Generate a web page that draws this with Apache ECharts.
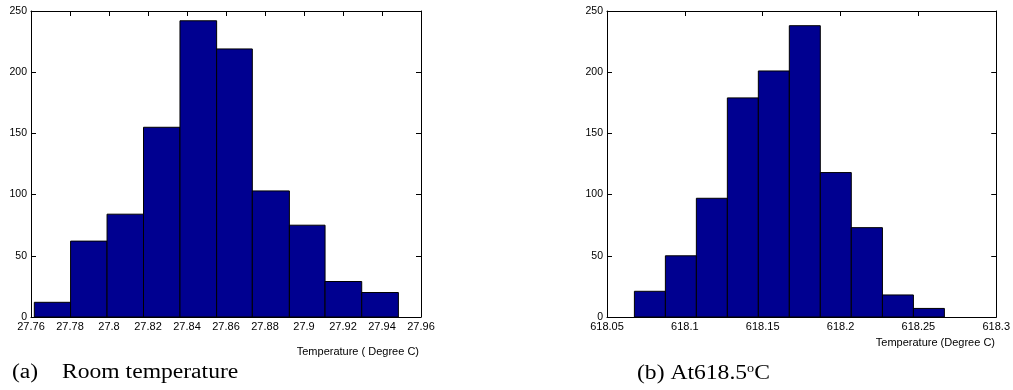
<!DOCTYPE html>
<html>
<head>
<meta charset="utf-8">
<script src="https://cdn.jsdelivr.net/npm/echarts@6/dist/echarts.min.js"></script>
<style>
html,body{margin:0;padding:0;background:#fff;}
#c{width:1013px;height:390px;}
</style>
</head>
<body>
<div id="c"></div>
<script>
// ---- data ----
// (a) room temperature histogram
const edgesA = [27.7617, 27.7803, 27.7990, 27.8177, 27.8364, 27.8552, 27.8735, 27.8925, 27.9108, 27.9296, 27.9484];
const countsA = [12, 62, 84, 155, 242, 219, 103, 75, 29, 20];
const xTicksA = {min: 27.76, max: 27.96, interval: 0.02};
// (b) at 618.5 C histogram
const edgesB = [618.0676, 618.0875, 618.1074, 618.1273, 618.1472, 618.1671, 618.1870, 618.2069, 618.2269, 618.2468, 618.2667];
const countsB = [21, 50, 97, 179, 201, 238, 118, 73, 18, 7];
const xTicksB = {min: 618.05, max: 618.3, interval: 0.05};
const yTicks = {min: 0, max: 250, interval: 50};
const xNameA = 'Temperature ( Degree C)';
const xNameB = 'Temperature (Degree C)';
const captionA1 = '(a)';
const captionA2 = 'Room temperature';
const captionB = '(b) At618.5';

const FONT = 'Liberation Sans, Arial, sans-serif';
const SERIF = 'Liberation Serif, Times New Roman, serif';

function xAxisDef(t, grid, pos, showLabels) {
  return {
    type: 'value', gridIndex: grid, position: pos,
    min: t.min, max: t.max, interval: t.interval,
    axisLine: {show: true, onZero: false, lineStyle: {color: '#000', width: 1}},
    axisTick: {show: true, inside: true, length: 5, lineStyle: {color: '#000'}},
    axisLabel: {show: showLabels, color: '#000', fontSize: 11, fontFamily: FONT, margin: 4,
      formatter: v => String(+v.toFixed(2))},
    splitLine: {show: false}
  };
}
function yAxisDef(grid, pos, showLabels) {
  return {
    type: 'value', gridIndex: grid, position: pos,
    min: yTicks.min, max: yTicks.max, interval: yTicks.interval,
    axisLine: {show: true, onZero: false, lineStyle: {color: '#000', width: 1}},
    axisTick: {show: true, inside: true, length: 5, lineStyle: {color: '#000'}},
    axisLabel: {show: showLabels, color: '#000', fontSize: 10.5, fontFamily: FONT, margin: 4},
    splitLine: {show: false}
  };
}
function hist(edges, counts, xi, yi) {
  return {
    type: 'custom', xAxisIndex: xi, yAxisIndex: yi, clip: false,
    data: counts.map((c, i) => [edges[i], edges[i + 1], c]),
    encode: {x: [0, 1], y: 2},
    renderItem: (params, api) => {
      const p0 = api.coord([api.value(0), 0]);
      const p1 = api.coord([api.value(1), api.value(2)]);
      return {
        type: 'rect',
        shape: {x: p0[0], y: p1[1], width: p1[0] - p0[0], height: p0[1] - p1[1]},
        style: {fill: '#000090', stroke: '#000', lineWidth: 1}
      };
    }
  };
}

const chart = echarts.init(document.getElementById('c'), null, {renderer: 'canvas'});
chart.setOption({
  animation: false,
  backgroundColor: '#fff',
  grid: [
    {left: 31, top: 11, width: 390, height: 306},
    {left: 607, top: 11, width: 390, height: 306}
  ],
  xAxis: [
    xAxisDef(xTicksA, 0, 'bottom', true),
    xAxisDef(xTicksA, 0, 'top', false),
    xAxisDef(xTicksB, 1, 'bottom', true),
    xAxisDef(xTicksB, 1, 'top', false)
  ],
  yAxis: [
    yAxisDef(0, 'left', true),
    yAxisDef(0, 'right', false),
    yAxisDef(1, 'left', true),
    yAxisDef(1, 'right', false)
  ],
  series: [
    hist(edgesA, countsA, 0, 0),
    hist(edgesB, countsB, 2, 2)
  ],
  graphic: [
    {type: 'text', right: 1013 - 419, top: 346, style: {text: xNameA, font: '11px ' + FONT, fill: '#000'}},
    {type: 'text', right: 1013 - 995, top: 337, style: {text: xNameB, font: '11px ' + FONT, fill: '#000'}},
    {type: 'text', x: 12, y: 363, scaleX: 1.18, style: {text: captionA1, font: '20px ' + SERIF, fill: '#000'}},
    {type: 'text', x: 62, y: 363, scaleX: 1.18, style: {text: captionA2, font: '20px ' + SERIF, fill: '#000'}},
    {type: 'text', x: 637, y: 363, scaleX: 1.18, style: {
      text: '{n|' + captionB + '}{s|o}{n|C}',
      rich: {
        n: {fontSize: 20, fontFamily: SERIF, fill: '#000', color: '#000'},
        s: {fontSize: 12, fontFamily: SERIF, color: '#000', verticalAlign: 'top', padding: [0, 0, 10, 0]}
      }
    }}
  ]
});
</script>
</body>
</html>
